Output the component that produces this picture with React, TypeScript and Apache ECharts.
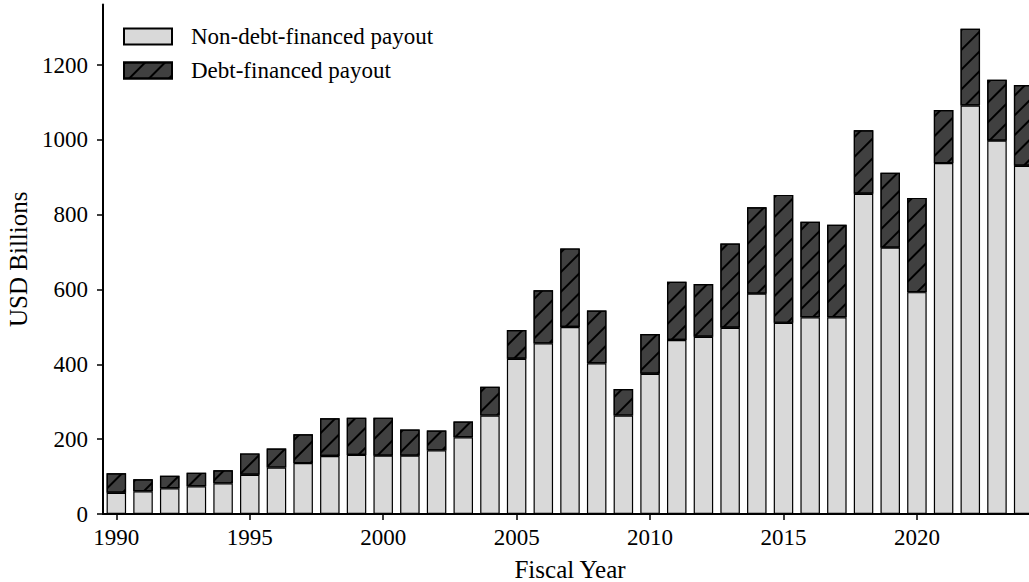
import React, { useEffect, useRef } from "react";
import * as echarts from "echarts";

const years = [
  "1990", "1991", "1992", "1993", "1994", "1995", "1996", "1997", "1998", "1999",
  "2000", "2001", "2002", "2003", "2004", "2005", "2006", "2007", "2008", "2009",
  "2010", "2011", "2012", "2013", "2014", "2015", "2016", "2017", "2018", "2019",
  "2020", "2021", "2022", "2023", "2024",
];

const nonDebtPayout = [
  57, 61, 69, 74, 82, 105, 124, 136, 155, 158,
  156, 156, 170, 205, 263, 415, 456, 500, 403, 263,
  375, 465, 474, 498, 589, 511, 526, 526, 856, 712,
  593, 938, 1092, 998, 931,
];

const debtPayout = [
  52, 32, 33, 36, 35, 57, 51, 77, 101, 99,
  101, 70, 53, 42, 77, 77, 142, 210, 141, 71,
  106, 156, 141, 225, 231, 342, 255, 247, 170, 200,
  252, 142, 205, 163, 216,
];

const yTicks = [0, 200, 400, 600, 800, 1000, 1200];

const FONT = "Liberation Serif, Times New Roman, serif";

export default function App() {
  const ref = useRef<HTMLDivElement>(null);

  useEffect(() => {
    if (!ref.current) return;
    const chart = echarts.init(ref.current, undefined, { renderer: "svg" });
    const showFive = (_i: number, v: string) => Number(v) % 5 === 0;
    chart.setOption({
      animation: false,
      backgroundColor: "#ffffff",
      textStyle: { fontFamily: FONT, color: "#000" },
      grid: {
        left: 103,
        width: 934,
        top: 4.5,
        bottom: 68,
        containLabel: false,
        outerBoundsMode: "none",
      },
      legend: {
        orient: "vertical",
        left: 123,
        top: 25,
        padding: 0,
        itemWidth: 48,
        itemHeight: 16,
        itemGap: 11,
        icon: "rect",
        textStyle: {
          fontFamily: FONT,
          fontSize: 23,
          lineHeight: 23,
          color: "#000",
          padding: [0, 0, 0, 14],
        },
        data: ["Non-debt-financed payout", "Debt-financed payout"],
      },
      xAxis: {
        type: "category",
        data: years,
        boundaryGap: true,
        name: "Fiscal Year",
        nameLocation: "middle",
        nameGap: 43,
        nameTextStyle: { fontFamily: FONT, fontSize: 25, color: "#000" },
        axisLine: { show: true, lineStyle: { color: "#000", width: 2 } },
        axisTick: {
          show: true,
          alignWithLabel: true,
          interval: showFive,
          length: 6,
          lineStyle: { color: "#000", width: 1.5 },
        },
        axisLabel: {
          interval: showFive,
          margin: 12,
          fontFamily: FONT,
          fontSize: 23,
          color: "#000",
        },
        splitLine: { show: false },
      },
      yAxis: {
        type: "value",
        min: 0,
        max: 1362,
        name: "USD Billions",
        nameLocation: "middle",
        nameGap: 72,
        nameTextStyle: { fontFamily: FONT, fontSize: 25, color: "#000" },
        axisLine: { show: true, lineStyle: { color: "#000", width: 2 } },
        axisTick: {
          show: true,
          length: 6,
          customValues: yTicks,
          lineStyle: { color: "#000", width: 1.5 },
        },
        axisLabel: {
          customValues: yTicks,
          margin: 15,
          fontFamily: FONT,
          fontSize: 23,
          color: "#000",
          formatter: (v: number) => String(v),
        },
        splitLine: { show: false },
      },
      series: [
        {
          name: "Non-debt-financed payout",
          type: "bar",
          stack: "total",
          barWidth: 19.5,
          data: nonDebtPayout,
          itemStyle: { color: "#d9d9d9", borderColor: "#000", borderWidth: 1.2 },
        },
        {
          name: "Debt-financed payout",
          type: "bar",
          stack: "total",
          barWidth: 19.5,
          data: debtPayout,
          itemStyle: {
            color: "#404040",
            borderColor: "#000",
            borderWidth: 1.2,
            decal: {
              symbol: "rect",
              symbolSize: 1,
              color: "#000",
              backgroundColor: "#404040",
              dashArrayX: [1, 0],
              dashArrayY: [1.8, 11.5],
              rotation: -Math.PI / 4,
            },
          },
        },
      ],
    });
    return () => chart.dispose();
  }, []);

  return (
    <div
      ref={ref}
      style={{ position: "absolute", left: 0, top: 0, width: 1029, height: 582, overflow: "hidden" }}
    />
  );
}
